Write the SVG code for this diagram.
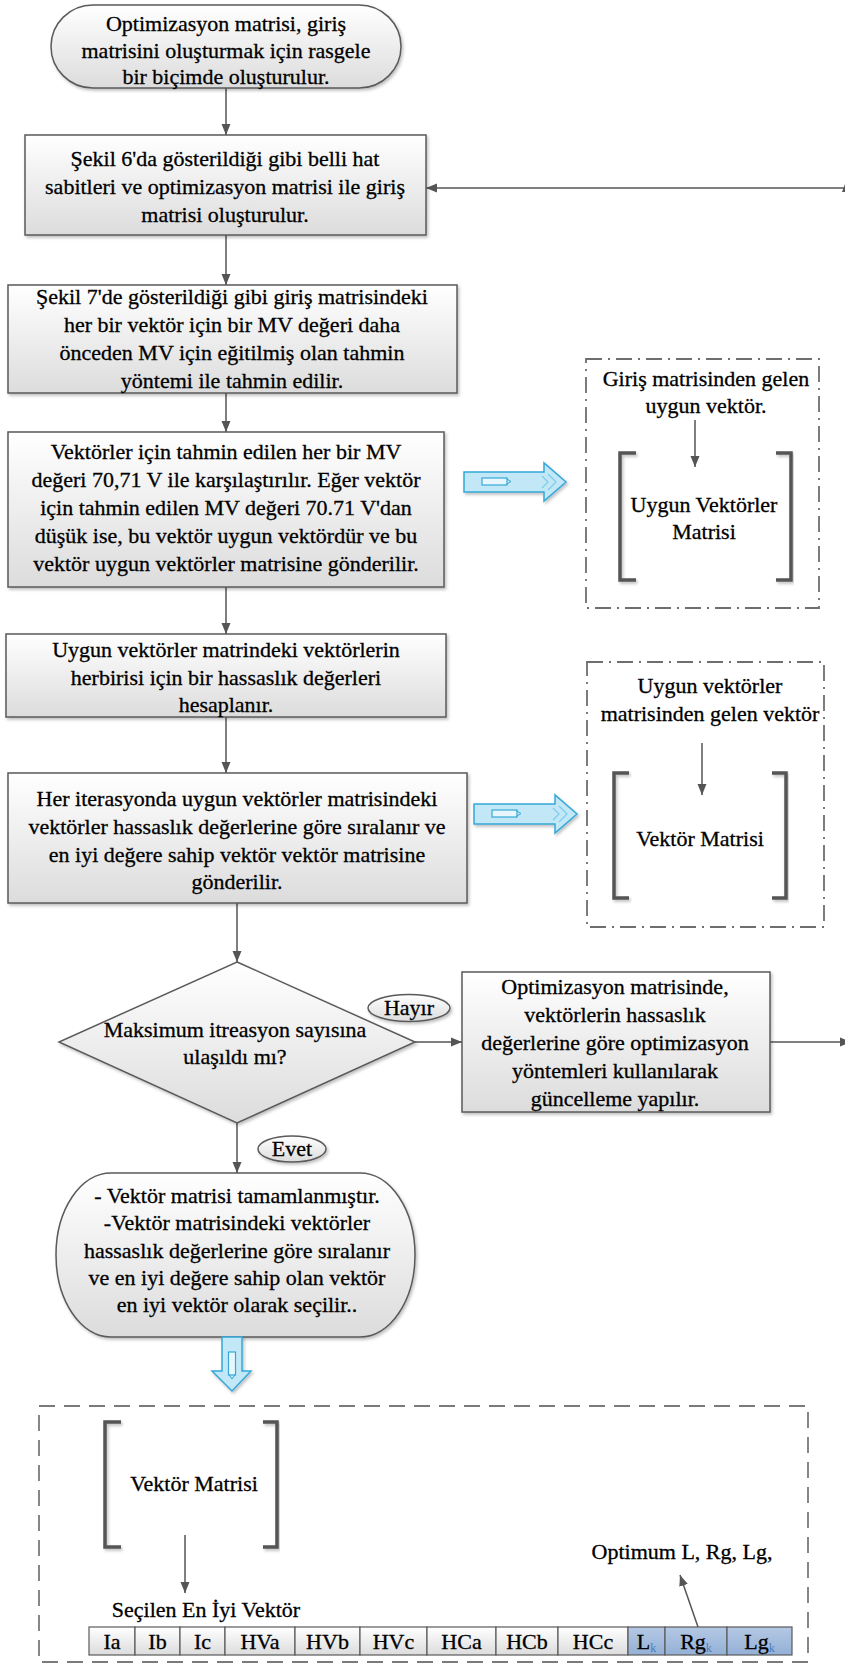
<svg xmlns="http://www.w3.org/2000/svg" width="845" height="1668" viewBox="0 0 845 1668">
<defs>
<linearGradient id="gNode" x1="0" y1="0" x2="0" y2="1"><stop offset="0" stop-color="#ffffff"/><stop offset="1" stop-color="#dcdcdc"/></linearGradient>
<linearGradient id="gBlue" x1="0" y1="0" x2="0" y2="1"><stop offset="0" stop-color="#b4c8e4"/><stop offset="1" stop-color="#94b0d6"/></linearGradient>
<filter id="sh" x="-10%" y="-10%" width="125%" height="130%"><feDropShadow dx="1.5" dy="2" stdDeviation="1.5" flood-color="#000" flood-opacity="0.25"/></filter>
<marker id="arr" viewBox="0 0 11 10" refX="11" refY="5" markerWidth="11" markerHeight="10" markerUnits="userSpaceOnUse" orient="auto"><path d="M0,0.5 L11,5 L0,9.5 z" fill="#555"/></marker>
<style>
text{font-family:"Liberation Serif","Times New Roman",serif;font-size:22px;fill:#000;stroke:#000;stroke-width:0.3;text-anchor:middle}
.node{fill:url(#gNode);stroke:#5a5a5a;stroke-width:1.5;filter:url(#sh)}
.ca{stroke:#555;stroke-width:1.5;fill:none;marker-end:url(#arr)}
.dd{fill:none;stroke:#6e6e6e;stroke-width:1.8;stroke-dasharray:16 6 2 6}
.dash{fill:none;stroke:#7a7a7a;stroke-width:1.8;stroke-dasharray:16 9}
.br{fill:none;stroke:#555;stroke-width:3.5;filter:url(#sh)}
.ba{fill:#c2e7f6;stroke:#35a8d8;stroke-width:1.5;filter:url(#sh)}
.bi{fill:#e8f7fd;stroke:#35a8d8;stroke-width:1.2}
.cell{fill:url(#gNode);stroke:#5a5a5a;stroke-width:1.2}
.cellb{fill:url(#gBlue);stroke:#5a5a5a;stroke-width:1.2}
.sub{font-size:12px;fill:#4a7ebb;stroke:none}
</style>
</defs>
<rect width="845" height="1668" fill="#ffffff"/>

<g id="connectors">
<line class="ca" x1="226" y1="88" x2="226" y2="135"/>
<line class="ca" x1="226" y1="235" x2="226" y2="285"/>
<line class="ca" x1="226" y1="393" x2="226" y2="432"/>
<line class="ca" x1="226" y1="587" x2="226" y2="634"/>
<line class="ca" x1="226" y1="717" x2="226" y2="773"/>
<line class="ca" x1="237" y1="903" x2="237" y2="962"/>
<line class="ca" x1="415" y1="1042" x2="462" y2="1042"/>
<line class="ca" x1="237" y1="1123" x2="237" y2="1173"/>
<line class="ca" x1="845" y1="188" x2="426" y2="188"/>
<polygon points="842,192 845,184 845,192" fill="#555"/>
<line class="ca" x1="770" y1="1042" x2="851" y2="1042"/>
<line class="ca" x1="695" y1="420" x2="695" y2="467"/>
<line class="ca" x1="702" y1="743" x2="702" y2="795"/>
<line class="ca" x1="185" y1="1535" x2="185" y2="1593"/>
<line class="ca" x1="698" y1="1627" x2="680" y2="1575"/>
</g>

<g id="n1">
<rect class="node" x="51" y="5" width="350" height="83" rx="42" ry="42"/>
<text x="226" y="31">Optimizasyon matrisi, giriş</text>
<text x="226" y="58">matrisini oluşturmak için rasgele</text>
<text x="226" y="84">bir biçimde oluşturulur.</text>
</g>

<g id="n2">
<rect class="node" x="25" y="135" width="401" height="100"/>
<text x="225" y="166">Şekil 6'da gösterildiği gibi belli hat</text>
<text x="225" y="194">sabitleri ve optimizasyon matrisi ile giriş</text>
<text x="225" y="222">matrisi oluşturulur.</text>
</g>

<g id="n3">
<rect class="node" x="8" y="285" width="449" height="108"/>
<text x="232" y="304">Şekil 7'de gösterildiği gibi giriş matrisindeki</text>
<text x="232" y="332">her bir vektör için bir MV değeri daha</text>
<text x="232" y="360">önceden MV için eğitilmiş olan tahmin</text>
<text x="232" y="388">yöntemi ile tahmin edilir.</text>
</g>

<g id="n4">
<rect class="node" x="8" y="432" width="436" height="155"/>
<text x="226" y="459">Vektörler için tahmin edilen her bir MV</text>
<text x="226" y="487">değeri 70,71 V ile karşılaştırılır.  Eğer vektör</text>
<text x="226" y="515">için tahmin edilen MV değeri 70.71 V'dan</text>
<text x="226" y="543">düşük ise, bu vektör uygun vektördür ve bu</text>
<text x="226" y="571">vektör uygun vektörler matrisine gönderilir.</text>
</g>

<g id="blue1">
<path class="ba" d="M464,472 H544 V463 L566,482 L544,501 V492 H464 Z"/>
<rect class="bi" x="482" y="478" width="25" height="7"/>
<path d="M506,478.5 L511,481.5 L506,484.5" fill="none" stroke="#35a8d8" stroke-width="1"/>
<path d="M548,474 L556,482 L548,490 M542,476 L548,482 L542,488" fill="none" stroke="#7fcbea" stroke-width="1.2"/>
</g>

<g id="box1">
<rect class="dd" x="586" y="359" width="233" height="249"/>
<text x="706" y="386">Giriş matrisinden gelen</text>
<text x="706" y="413">uygun vektör.</text>
<path class="br" d="M636,453 H620 V580 H636"/>
<path class="br" d="M776,453 H791 V580 H776"/>
<text x="704" y="512">Uygun Vektörler</text>
<text x="704" y="539">Matrisi</text>
</g>

<g id="n5">
<rect class="node" x="6" y="634" width="440" height="83"/>
<text x="226" y="657">Uygun vektörler matrindeki vektörlerin</text>
<text x="226" y="685">herbirisi için bir hassaslık değerleri</text>
<text x="226" y="712">hesaplanır.</text>
</g>

<g id="n6">
<rect class="node" x="8" y="773" width="459" height="130"/>
<text x="237" y="806">Her iterasyonda uygun vektörler matrisindeki</text>
<text x="237" y="834">vektörler hassaslık değerlerine göre sıralanır ve</text>
<text x="237" y="862">en iyi değere sahip vektör vektör matrisine</text>
<text x="237" y="889">gönderilir.</text>
</g>

<g id="blue2">
<path class="ba" d="M474,804 H555 V795 L577,814 L555,833 V824 H474 Z"/>
<rect class="bi" x="492" y="810" width="25" height="7"/>
<path d="M516,810.5 L521,813.5 L516,816.5" fill="none" stroke="#35a8d8" stroke-width="1"/>
<path d="M559,806 L567,814 L559,822 M553,808 L559,814 L553,820" fill="none" stroke="#7fcbea" stroke-width="1.2"/>
</g>

<g id="box2">
<rect class="dd" x="587" y="662" width="237" height="265"/>
<text x="710" y="693">Uygun vektörler</text>
<text x="710" y="721">matrisinden gelen vektör</text>
<path class="br" d="M629,773 H614 V898 H629"/>
<path class="br" d="M772,773 H786 V898 H772"/>
<text x="700" y="846">Vektör Matrisi</text>
</g>

<g id="decision">
<polygon class="node" points="237,962 415,1042 237,1123 59,1042"/>
<text x="235" y="1037">Maksimum itreasyon sayısına</text>
<text x="235" y="1064">ulaşıldı mı?</text>
</g>

<g id="lblHayir">
<ellipse class="node" cx="409" cy="1008" rx="41" ry="13.5"/>
<text x="409" y="1015">Hayır</text>
</g>

<g id="n7">
<rect class="node" x="462" y="972" width="308" height="140"/>
<text x="615" y="994">Optimizasyon matrisinde,</text>
<text x="615" y="1022">vektörlerin hassaslık</text>
<text x="615" y="1050">değerlerine göre optimizasyon</text>
<text x="615" y="1078">yöntemleri kullanılarak</text>
<text x="615" y="1106">güncelleme yapılır.</text>
</g>

<g id="lblEvet">
<ellipse class="node" cx="292" cy="1149" rx="34" ry="13"/>
<text x="292" y="1156">Evet</text>
</g>

<g id="n8">
<rect class="node" x="56" y="1173" width="359" height="164" rx="55" ry="82"/>
<text x="237" y="1203">- Vektör matrisi tamamlanmıştır.</text>
<text x="237" y="1230">-Vektör matrisindeki vektörler</text>
<text x="237" y="1258">hassaslık değerlerine göre sıralanır</text>
<text x="237" y="1285">ve en iyi değere sahip olan vektör</text>
<text x="237" y="1312">en iyi vektör olarak seçilir..</text>
</g>

<g id="blue3">
<path class="ba" d="M222,1337 V1371 H212 L232,1391 L251,1371 H242 V1337 Z"/>
<rect class="bi" x="228.5" y="1352" width="7" height="23"/>
<path d="M228.5,1374 L232,1379 L235.5,1374" fill="none" stroke="#35a8d8" stroke-width="1"/>
</g>

<g id="result">
<rect class="dash" x="39" y="1406" width="769" height="256"/>
<path class="br" d="M121,1422 H105 V1547 H121"/>
<path class="br" d="M263,1422 H277 V1547 H263"/>
<text x="194" y="1491">Vektör Matrisi</text>
<text x="206" y="1617">Seçilen En İyi Vektör</text>
<text x="682" y="1559">Optimum L, Rg, Lg,</text>
</g>

<g id="vector">
<rect class="cell" x="89" y="1627" width="46" height="28"/>
<rect class="cell" x="135" y="1627" width="45" height="28"/>
<rect class="cell" x="180" y="1627" width="45" height="28"/>
<rect class="cell" x="225" y="1627" width="70" height="28"/>
<rect class="cell" x="295" y="1627" width="65" height="28"/>
<rect class="cell" x="360" y="1627" width="67" height="28"/>
<rect class="cell" x="427" y="1627" width="69" height="28"/>
<rect class="cell" x="496" y="1627" width="62" height="28"/>
<rect class="cell" x="558" y="1627" width="70" height="28"/>
<rect class="cellb" x="628" y="1627" width="37" height="28"/>
<rect class="cellb" x="665" y="1627" width="62" height="28"/>
<rect class="cellb" x="727" y="1627" width="65" height="28"/>
<text x="112" y="1649">Ia</text>
<text x="157.5" y="1649">Ib</text>
<text x="202.5" y="1649">Ic</text>
<text x="260" y="1649">HVa</text>
<text x="327.5" y="1649">HVb</text>
<text x="393.5" y="1649">HVc</text>
<text x="461.5" y="1649">HCa</text>
<text x="527" y="1649">HCb</text>
<text x="593" y="1649">HCc</text>
<text x="646.5" y="1649">L<tspan class="sub" dy="3">k</tspan></text>
<text x="696" y="1649">Rg<tspan class="sub" dy="3">k</tspan></text>
<text x="759.5" y="1649">Lg<tspan class="sub" dy="3">k</tspan></text>
</g>
</svg>
